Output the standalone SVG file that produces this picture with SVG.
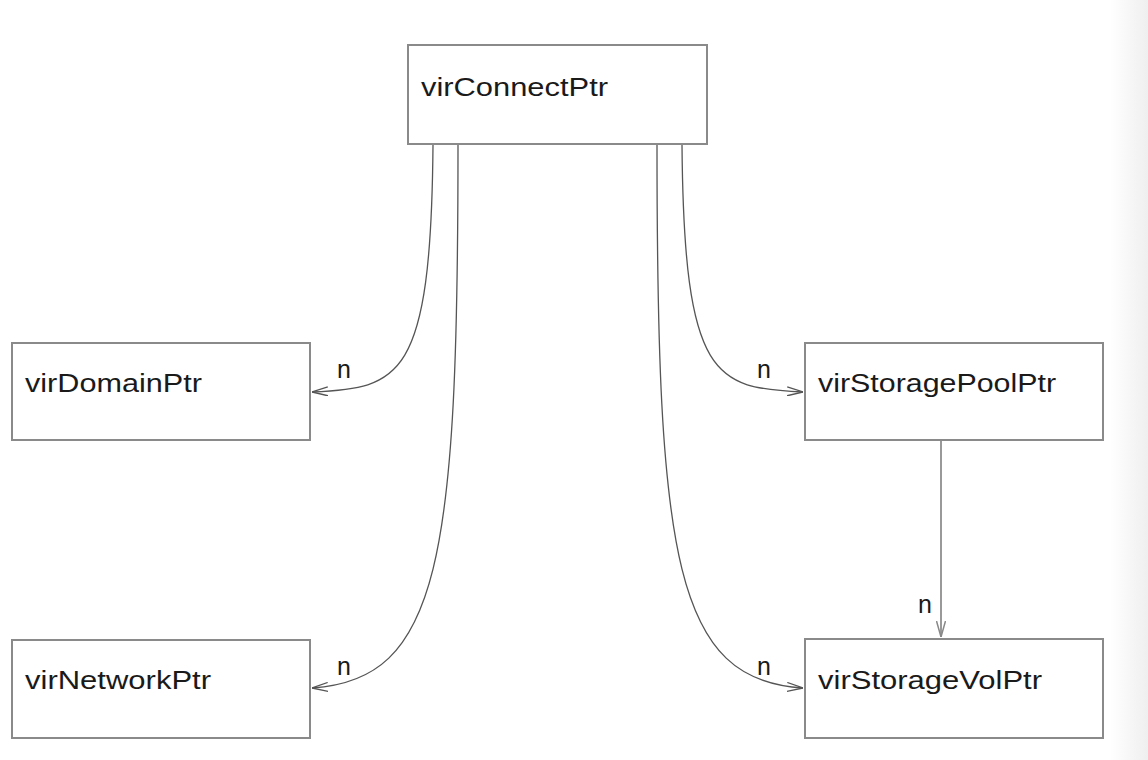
<svg xmlns="http://www.w3.org/2000/svg" width="1148" height="760" viewBox="0 0 1148 760">
  <defs>
    <linearGradient id="edge" x1="0" y1="0" x2="1" y2="0">
      <stop offset="0" stop-color="#ffffff"/>
      <stop offset="1" stop-color="#efefef"/>
    </linearGradient>
    <marker id="arr" viewBox="0 0 16 10" refX="16" refY="5" markerWidth="16" markerHeight="10" markerUnits="userSpaceOnUse" orient="auto">
      <path d="M0,0.5 L16,5 L0,9.5" fill="none" stroke="#555" stroke-width="1.3"/>
    </marker>
    <marker id="arrg" viewBox="0 0 16 10" refX="16" refY="5" markerWidth="16" markerHeight="10" markerUnits="userSpaceOnUse" orient="auto">
      <path d="M0,0.5 L16,5 L0,9.5" fill="none" stroke="#888" stroke-width="1.5"/>
    </marker>
  </defs>
  <style>
    .box { fill: #ffffff; stroke: #8a8a8a; stroke-width: 2; }
    .lbl { font-family: "Liberation Sans", Arial, sans-serif; font-size: 26px; fill: #1a1a1a; }
    .n { font-family: "Liberation Sans", Arial, sans-serif; font-size: 25px; fill: #1a1a1a; }
    .edge { fill: none; stroke: #555; stroke-width: 1.3; marker-end: url(#arr); }
    .edgeg { fill: none; stroke: #999; stroke-width: 2; marker-end: url(#arrg); }
  </style>
  <rect x="0" y="0" width="1148" height="760" fill="#ffffff"/>
  <rect x="1110" y="0" width="38" height="760" fill="url(#edge)"/>

  <g id="connectors">
    <path class="edge" d="M433,145 C431,380 400,388 312,392"/>
    <path class="edge" d="M458,145 C458,560 440,680 312,688"/>
    <path class="edge" d="M682,145 C684,380 715,388 803,392"/>
    <path class="edge" d="M657,145 C657,560 675,680 803,688"/>
    <path class="edgeg" d="M941,441 L941,637"/>
    <text class="n" x="337" y="378">n</text>
    <text class="n" x="337" y="675">n</text>
    <text class="n" x="757" y="378">n</text>
    <text class="n" x="757" y="675">n</text>
    <text class="n" x="918" y="613">n</text>
  </g>

  <g id="virConnectPtr">
    <rect class="box" x="408" y="45" width="299" height="99"/>
    <text class="lbl" x="421" y="96" textLength="187" lengthAdjust="spacingAndGlyphs">virConnectPtr</text>
  </g>
  <g id="virDomainPtr">
    <rect class="box" x="12" y="343" width="298" height="97"/>
    <text class="lbl" x="25" y="392" textLength="177" lengthAdjust="spacingAndGlyphs">virDomainPtr</text>
  </g>
  <g id="virNetworkPtr">
    <rect class="box" x="12" y="640" width="298" height="98"/>
    <text class="lbl" x="25" y="689" textLength="186" lengthAdjust="spacingAndGlyphs">virNetworkPtr</text>
  </g>
  <g id="virStoragePoolPtr">
    <rect class="box" x="805" y="343" width="298" height="97"/>
    <text class="lbl" x="818" y="392" textLength="238" lengthAdjust="spacingAndGlyphs">virStoragePoolPtr</text>
  </g>
  <g id="virStorageVolPtr">
    <rect class="box" x="805" y="639" width="298" height="99"/>
    <text class="lbl" x="818" y="689" textLength="224" lengthAdjust="spacingAndGlyphs">virStorageVolPtr</text>
  </g>
</svg>
